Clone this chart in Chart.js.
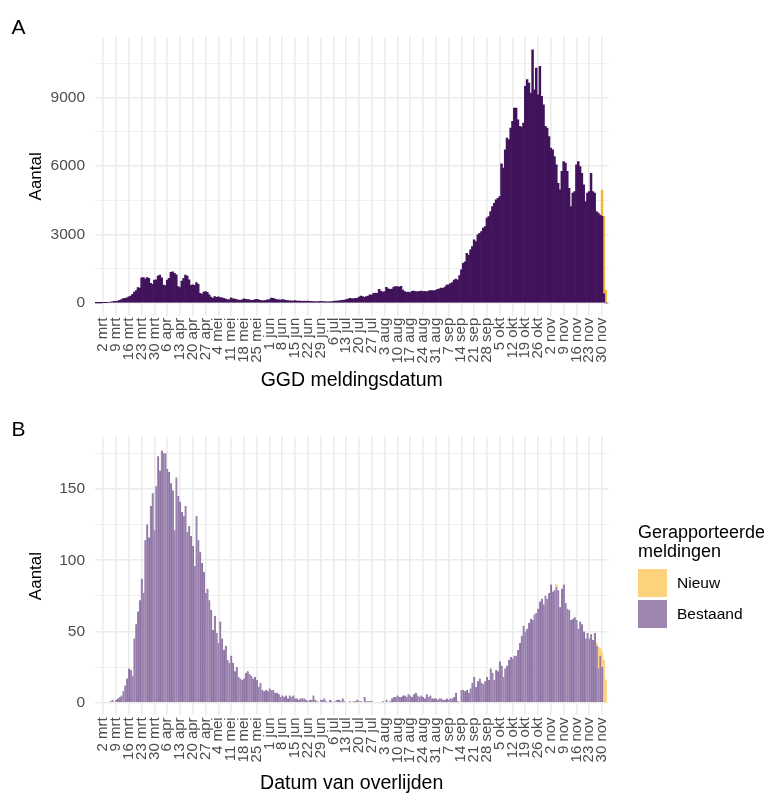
<!DOCTYPE html>
<html lang="nl">
<head>
<meta charset="utf-8">
<title>GGD meldingen en overlijdens</title>
<script src="https://cdn.jsdelivr.net/npm/chart.js@4.4.1/dist/chart.umd.min.js"></script>
<style>
  html, body { margin: 0; padding: 0; background: #fff; }
  body { position: relative; width: 764px; height: 795px; overflow: hidden; font-family: "Liberation Sans", Arial, sans-serif; }
  canvas { position: absolute; left: 0; }
  #grafiek-a { top: 0; }
  #grafiek-b { top: 400px; }
  #legenda { position: absolute; left: 638px; top: 523px; color: #000; }
  #legenda .titel { font-size: 18px; line-height: 19px; margin-bottom: 8px; }
  #legenda .item { display: flex; align-items: center; height: 28px; margin-bottom: 3px; font-size: 15.5px; }
  #legenda .sleutel { width: 29px; height: 28px; margin-right: 10px; }
</style>
</head>
<body>
<canvas id="grafiek-a" width="764" height="400"></canvas>
<canvas id="grafiek-b" width="764" height="395"></canvas>
<div id="legenda"></div>
<script>
// dag 0 = 2 mrt 2020, eerste dag in de reeks = 27 feb
const EERSTE_DAG = -4;

const weekLabels = ["2 mrt", "9 mrt", "16 mrt", "23 mrt", "30 mrt", "6 apr", "13 apr", "20 apr", "27 apr",
  "4 mei", "11 mei", "18 mei", "25 mei", "1 jun", "8 jun", "15 jun", "22 jun", "29 jun",
  "6 jul", "13 jul", "20 jul", "27 jul", "3 aug", "10 aug", "17 aug", "24 aug", "31 aug",
  "7 sep", "14 sep", "21 sep", "28 sep", "5 okt", "12 okt", "19 okt", "26 okt",
  "2 nov", "9 nov", "16 nov", "23 nov", "30 nov"];

const yTicksA = [0, 1500, 3000, 4500, 6000, 7500, 9000, 10500];
const yTicksB = [0, 25, 50, 75, 100, 125, 150, 175];

// A: positief geteste personen per GGD meldingsdatum (27 feb t/m 3 dec)
const meldingenBestaand = [
  2, 3, 5, 7,
  10, 14, 20, 35, 45, 55, 70,
  75, 90, 120, 150, 190, 210, 230,
  270, 300, 380, 480, 550, 680, 660,
  1100, 1120, 1050, 1120, 1080, 860, 820,
  1000, 1020, 1180, 1220, 1100, 790, 760,
  1000, 1080, 1340, 1370, 1300, 1240, 720,
  680, 960, 1080, 1230, 1180, 1020, 780,
  800, 780, 900, 820, 420, 380, 480,
  500, 470, 360, 260, 210, 280, 250,
  270, 240, 230, 200, 170, 150, 140,
  230, 180, 170, 150, 130, 120, 140,
  180, 160, 150, 140, 120, 120, 150,
  160, 140, 120, 100, 110, 120, 140,
  150, 220, 200, 170, 150, 140, 130,
  150, 140, 120, 110, 100, 100, 90,
  110, 90, 80, 80, 70, 80, 70,
  80, 75, 70, 60, 60, 55, 60,
  70, 60, 60, 55, 55, 50, 60,
  70, 80, 90, 100, 110, 120, 130,
  150, 170, 200, 190, 180, 200, 210,
  260, 300, 280, 250, 280, 300, 360,
  350, 420, 440, 430, 600, 520, 480,
  500, 690, 620, 600, 610, 700, 720,
  720, 700, 730, 570, 500, 470, 480,
  460, 510, 520, 500, 490, 510, 520,
  500, 510, 490, 520, 540, 550, 530,
  560, 600, 620, 650, 640, 700, 790,
  800, 850, 900, 1000, 1050, 1000, 1200,
  1450, 1740, 1800, 2180, 2100, 2330, 2470,
  2765, 2690, 2985, 3060, 3130, 3280, 3350,
  3720, 3790, 4010, 4230, 4370, 4520, 4590,
  4670, 6100, 5910, 6720, 7230, 7150, 7670,
  7960, 8540, 8540, 8030, 7740, 7710, 7890,
  9500, 9790, 9640, 9200, 11100, 9350, 10300,
  9130, 10370, 9060, 8690, 7740, 7670, 7300,
  6790, 6720, 6420, 6060, 5250, 4960, 5770,
  6200, 6130, 5770, 5030, 4230, 4820, 4890,
  6060, 6200, 5980, 5690, 5180, 4450, 4820,
  4890, 5690, 4890, 4820, 4010, 3940, 3860,
  3800, 400, 0, 0
];
const meldingenNieuwDagen = [273, 274, 275];
const meldingenNieuw = [1150, 3400, 570];

// B: overleden personen per datum van overlijden
const overlijdenBestaand = [
  0, 0, 0, 0,
  0, 0, 0, 0, 1, 2, 0,
  2, 3, 4, 5, 8, 12, 17,
  24, 23, 19, 45, 55, 64, 72,
  87, 77, 114, 125, 116, 138, 147,
  121, 152, 173, 163, 177, 175, 175,
  164, 162, 154, 149, 121, 158, 145,
  141, 134, 131, 138, 120, 124, 117,
  110, 96, 131, 114, 106, 98, 92,
  77, 80, 72, 65, 51, 61, 49,
  42, 57, 45, 37, 40, 30, 28,
  33, 28, 22, 25, 18, 17, 16,
  17, 21, 22, 20, 19, 17, 18,
  16, 11, 14, 9, 8, 9, 8,
  10, 9, 9, 7, 7, 6, 4,
  5, 4, 5, 3, 5, 4, 5,
  3, 3, 2, 3, 3, 3, 2,
  1, 2, 2, 5, 2, 1, 0,
  2, 2, 3, 1, 0, 2, 1,
  0, 1, 2, 2, 1, 3, 1,
  0, 0, 1, 0, 1, 1, 2,
  1, 1, 0, 4, 1, 1, 1,
  1, 0, 0, 0, 0, 0, 1,
  0, 2, 0, 1, 3, 4, 4,
  5, 4, 4, 5, 5, 4, 6,
  5, 4, 6, 7, 5, 4, 5,
  4, 3, 6, 4, 5, 3, 3,
  3, 2, 3, 3, 2, 2, 3,
  2, 3, 3, 4, 7, 1, 0,
  9, 9, 8, 9, 7, 10, 14,
  18, 11, 15, 17, 14, 13, 15,
  18, 16, 24, 21, 16, 23, 22,
  29, 26, 18, 24, 26, 30, 32,
  31, 33, 33, 37, 42, 47, 54,
  50, 52, 56, 59, 58, 62, 63,
  66, 71, 73, 69, 75, 73, 77,
  83, 78, 79, 81, 79, 67, 80,
  83, 70, 66, 65, 58, 59, 60,
  58, 52, 57, 55, 50, 45, 49,
  45, 48, 44, 49, 40, 24, 33,
  25, 0, 0, 0
];
const overlijdenNieuwDagen = [248, 270, 271, 272, 273, 274, 275];
const overlijdenNieuw = [2, 2, 15, 5, 10, 30, 16];

const dagen = meldingenBestaand.map((_, i) => EERSTE_DAG + i);

const FONT = '"Liberation Sans", Arial, sans-serif';
const GRID = "#ebebeb";
const TEKST = "#4d4d4d";

Chart.defaults.font.family = FONT;
Chart.defaults.color = TEKST;

const panelTag = {
  id: "panelTag",
  afterDraw(chart, args, opts) {
    const ctx = chart.ctx;
    ctx.save();
    ctx.font = "21px " + FONT;
    ctx.fillStyle = "#000";
    ctx.textBaseline = "alphabetic";
    ctx.fillText(opts.text, opts.x, opts.y);
    ctx.restore();
  }
};

function punten(xs, ys){
  return ys.map((v, i) => ({ x: xs[i], y: v }));
}

function maakOpties(cfg){
  return {
    responsive: false,
    animation: false,
    layout: { padding: { top: cfg.top, right: 155.6, bottom: 0, left: 0 } },
    plugins: {
      legend: { display: false },
      tooltip: { enabled: false },
      panelTag: { text: cfg.tag, x: 11.5, y: cfg.tagY }
    },
    scales: {
      x: {
        type: "linear",
        stacked: true,
        min: -4.5,
        max: 276.5,
        offset: false,
        grid: { offset: false, color: GRID, lineWidth: 1.6, drawTicks: false },
        border: { display: false },
        afterBuildTicks: (s) => { s.ticks = weekLabels.map((_, i) => ({ value: i * 7 })); },
        afterFit: (s) => { s.height = cfg.xHoogte; },
        ticks: {
          autoSkip: false,
          minRotation: 90,
          maxRotation: 90,
          padding: 2,
          color: TEKST,
          font: { size: 15 },
          callback: (v, i) => weekLabels[i]
        },
        title: {
          display: true,
          text: cfg.xTitel,
          color: "#000",
          font: { size: 19.5, lineHeight: 1.2 },
          padding: { top: 0, bottom: cfg.titelPad }
        }
      },
      y: {
        stacked: true,
        min: cfg.yMin,
        max: cfg.yMax,
        grid: {
          color: GRID,
          lineWidth: (c) => (c.tick && c.tick.value % cfg.yStap === 0 ? 1.6 : 0.8),
          drawTicks: false
        },
        border: { display: false },
        afterBuildTicks: (s) => { s.ticks = cfg.yTicks.map((v) => ({ value: v })); },
        afterFit: (s) => { s.width = 95; },
        ticks: {
          autoSkip: false,
          padding: 10,
          color: TEKST,
          font: { size: 15.5 },
          callback: (v) => (v % cfg.yStap === 0 ? String(v) : "")
        },
        title: {
          display: true,
          text: "Aantal",
          color: "#000",
          font: { size: 17, lineHeight: 1.2 },
          padding: { top: 26, bottom: 0 }
        }
      }
    }
  };
}

const grafiekA = new Chart(document.getElementById("grafiek-a"), {
  type: "bar",
  data: {
    datasets: [
      {
        label: "Bestaand",
        data: punten(dagen, meldingenBestaand),
        backgroundColor: "#40135b",
        borderWidth: 0,
        barPercentage: 1,
        categoryPercentage: 1
      },
      {
        label: "Nieuw",
        data: punten(meldingenNieuwDagen, meldingenNieuw),
        backgroundColor: "#f4b335",
        borderWidth: 0,
        barPercentage: 1,
        categoryPercentage: 1
      }
    ]
  },
  options: maakOpties({
    top: 37, xHoogte: 84.3, titelPad: 8, xTitel: "GGD meldingsdatum",
    yMin: -556, yMax: 11661, yStap: 3000, yTicks: yTicksA, tag: "A", tagY: 34
  }),
  plugins: [panelTag]
});

const grafiekB = new Chart(document.getElementById("grafiek-b"), {
  type: "bar",
  data: {
    datasets: [
      {
        label: "Bestaand",
        data: punten(dagen, overlijdenBestaand),
        backgroundColor: "#9c84b0",
        borderColor: "#7f6398",
        borderWidth: { left: 0, right: 0.7, top: 0, bottom: 0 },
        barPercentage: 1,
        categoryPercentage: 1
      },
      {
        label: "Nieuw",
        data: punten(overlijdenNieuwDagen, overlijdenNieuw),
        backgroundColor: "#fdd27c",
        borderWidth: 0,
        barPercentage: 1,
        categoryPercentage: 1
      }
    ]
  },
  options: maakOpties({
    top: 36.7, xHoogte: 79.6, titelPad: 0, xTitel: "Datum van overlijden",
    yMin: -8.9, yMax: 186.7, yStap: 50, yTicks: yTicksB, tag: "B", tagY: 36
  }),
  plugins: [panelTag]
});

// legenda naast paneel B, in omgekeerde volgorde (Nieuw boven)
const legenda = document.getElementById("legenda");
let html = '<div class="titel">Gerapporteerde<br>meldingen</div>';
grafiekB.data.datasets.slice().reverse().forEach((ds) => {
  const kleur = ds.label === "Bestaand" ? "#9d85b0" : ds.backgroundColor;
  html += `<div class="item"><span class="sleutel" style="background:${kleur}"></span><span>${ds.label}</span></div>`;
});
legenda.innerHTML = html;
</script>
</body>
</html>
